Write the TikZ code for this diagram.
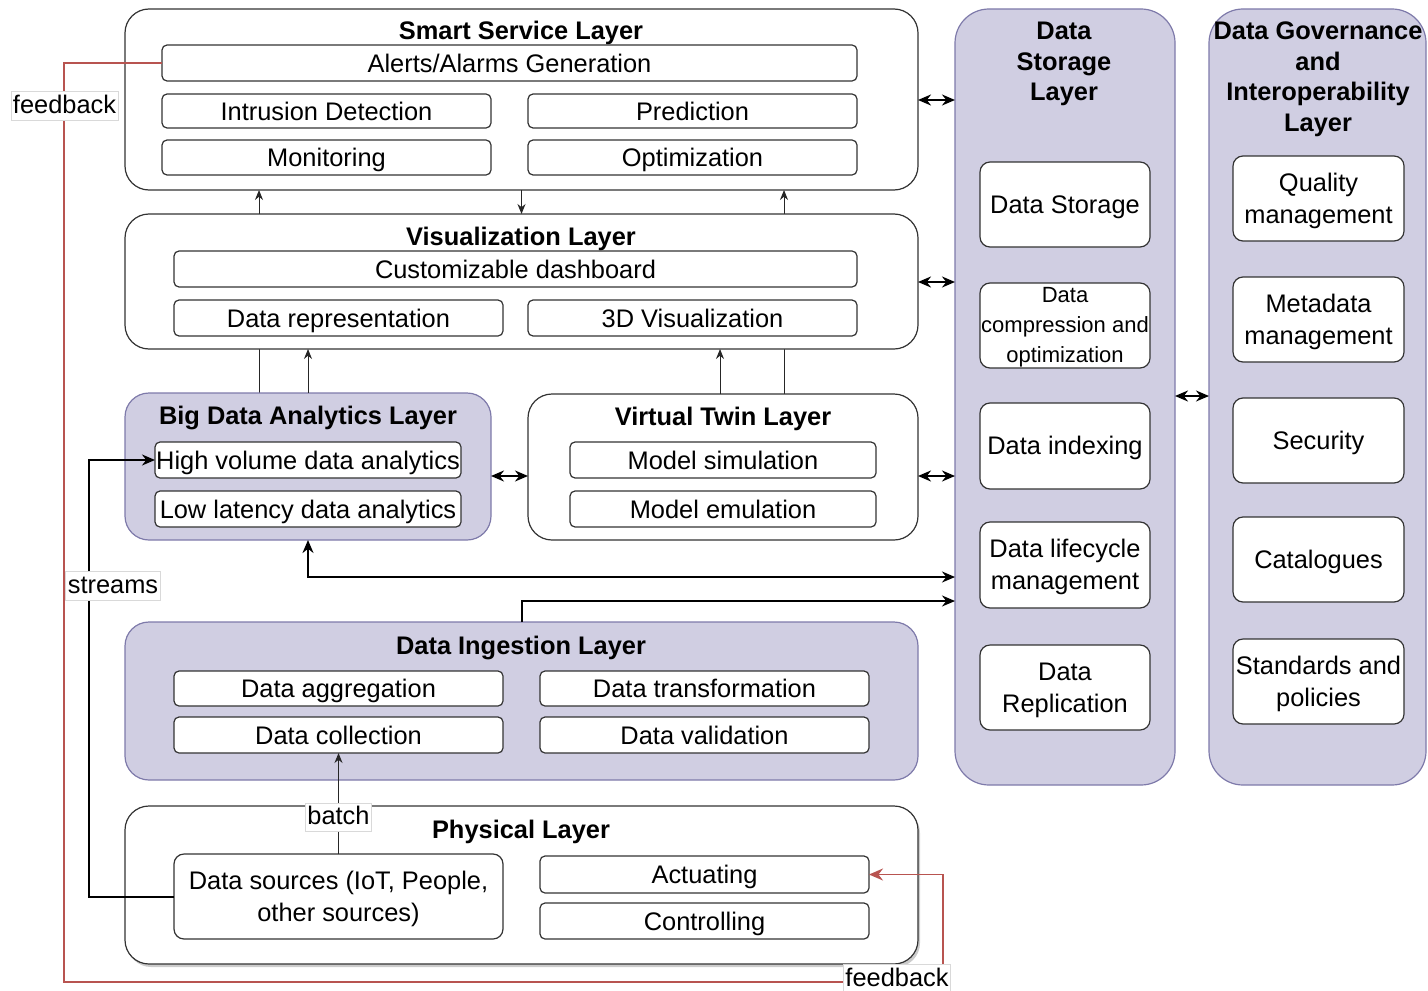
\documentclass[tikz,border=0pt]{standalone}
\usepackage{fontspec}
\setmainfont{Liberation Sans}
\usetikzlibrary{arrows.meta,shadows,backgrounds}
\definecolor{lav}{HTML}{D0CEE2}
\definecolor{lavd}{HTML}{7E7AAA}
\definecolor{fbred}{HTML}{B85450}
\newcommand\nsz{\fontsize{12.7}{15.25}\selectfont}
\newcommand\msz{\fontsize{12.7}{16}\selectfont}
\newcommand\ssz{\fontsize{11}{15.1}\selectfont}
\newcommand\tl{\rule{0pt}{11.6pt}}
\tikzset{
 sz/.style 2 args={minimum width=#1pt, minimum height=#2pt},
 outer/.style={draw=black!80, line width=0.6pt, rounded corners=12pt, fill=white, inner sep=0pt, outer sep=0pt},
 outerp/.style={outer, fill=lav, draw=lavd},
 tall/.style={outer, fill=lav, draw=lavd, rounded corners=17pt},
 ibox/.style={draw=black!80, line width=0.6pt, rounded corners=2.5pt, fill=white, inner sep=0pt, outer sep=0pt, font=\nsz, text height=9.1pt, text depth=0pt},
 sbox/.style={draw=black!80, line width=0.6pt, rounded corners=5pt, fill=white, inner sep=0pt, outer sep=0pt, font=\msz, align=center},
 ttl/.style={font=\nsz\bfseries, inner sep=0pt, text height=9.1pt, text depth=0pt},
 mttl/.style={font=\nsz\bfseries, inner sep=0pt, align=center},
 lbl/.style={fill=white, draw=black!15, line width=0.4pt, inner sep=1pt, font=\nsz, text height=9.6pt, text depth=2.6pt},
 thinarr/.style={line width=0.5pt, draw=black!85, -{Stealth[length=5pt,width=4pt]}},
 thk/.style={line width=1pt},
 fbline/.style={line width=0.8pt, draw=fbred},
}
\begin{document}
\begin{tikzpicture}[x=0.5pt,y=-0.5pt, >={Stealth[length=6.5pt,width=5.5pt]}]
\useasboundingbox (0,0) rectangle (1428,990);

% column / row helper coordinates
\coordinate (x259) at (259,0);
\coordinate (x308) at (308,0);
\coordinate (x720) at (720,0);
\coordinate (x784) at (784,0);
\coordinate (sx) at (89,0);
\coordinate (y100) at (0,100);
\coordinate (y282) at (0,282);
\coordinate (y476) at (0,476);
\coordinate (y396) at (0,396);
\coordinate (y577) at (0,577);
\coordinate (y601) at (0,601);
\coordinate (fbL) at (64,982);
\coordinate (fbR) at (943,982);

% Smart Service Layer
\node[outer, sz={396.5}{90.5}] (ssl) at (521.5,99.5) {};
\node[ttl] (ssltitle) at (521,30.5) {Smart Service Layer};
\node[ibox, sz={347.5}{18}] (alerts) at (509.5,63) {Alerts/Alarms Generation};
\node[ibox, sz={164.5}{17}] (intr) at (326.5,111) {Intrusion Detection};
\node[ibox, sz={164.5}{17}] (pred) at (692.5,111) {Prediction};
\node[ibox, sz={164.5}{17.5}] (moni) at (326.5,157.5) {Monitoring};
\node[ibox, sz={164.5}{17.5}] (opti) at (692.5,157.5) {Optimization};

% Visualization Layer
\node[outer, sz={396.5}{67.5}] (vl) at (521.5,281.5) {};
\node[ttl] (vltitle) at (521,236.5) {Visualization Layer};
\node[ibox, sz={341.5}{18}] (dash) at (515.5,269) {Customizable dashboard};
\node[ibox, sz={164.5}{18}] (drep) at (338.5,318) {Data representation};
\node[ibox, sz={164.5}{18}] (vis3d) at (692.5,318) {3D Visualization};

% Big Data Analytics Layer
\node[outerp, sz={183}{73.5}] (bda) at (308,466.5) {};
\node[ttl] (bdatitle) at (308,415) {Big Data Analytics Layer};
\node[ibox, sz={153}{18}] (hv) at (308,460) {High volume data analytics};
\node[ibox, sz={153}{18}] (ll) at (308,509) {Low latency data analytics};

% Virtual Twin Layer
\node[outer, sz={195}{73}] (vt) at (723,467) {};
\node[ttl] (vttitle) at (723,416.5) {Virtual Twin Layer};
\node[ibox, sz={153}{18}] (msim) at (723,460) {Model simulation};
\node[ibox, sz={153}{18}] (memu) at (723,509) {Model emulation};

% Data Ingestion Layer
\node[outerp, sz={396.5}{79}] (dil) at (521.5,701) {};
\node[ttl] (diltitle) at (521,645) {Data Ingestion Layer};
\node[ibox, sz={164.5}{17.5}] (dagg) at (338.5,688.5) {Data aggregation};
\node[ibox, sz={164.5}{17.5}] (dtrans) at (704.5,688.5) {Data transformation};
\node[ibox, sz={164.5}{18}] (dcoll) at (338.5,735) {Data collection};
\node[ibox, sz={164.5}{18}] (dval) at (704.5,735) {Data validation};

% Physical Layer
\node[outer, sz={396.5}{79}, drop shadow={shadow xshift=1pt, shadow yshift=-1.5pt, fill=black!40, opacity=0.5}] (pl) at (521.5,885) {};
\node[ttl] (pltitle) at (521,829.5) {Physical Layer};
\node[sbox, sz={164.5}{42.5}] (dsrc) at (338.5,896.5) {\tl Data sources (IoT, People,\\other sources)};
\node[ibox, sz={164.5}{18.5}] (act) at (704.5,874.5) {Actuating};
\node[ibox, sz={164.5}{18}] (ctrl) at (704.5,921) {Controlling};

% Data Storage Layer
\node[tall, sz={110}{388}] (dsl) at (1065,397) {};
\node[mttl] (dsltitle) at (1064,64) {Data\\Storage\\Layer};
\node[sbox, sz={85}{42.5}] (dstor) at (1065,204.5) {\tl Data Storage};
\node[sbox, sz={85}{42.5}] (dcomp) at (1065,325.5) {};
\node[font=\ssz, align=center, inner sep=0pt] (dcomptxt) at (1065,327.3) {Data\\compression and\\optimization};
\node[sbox, sz={85}{43}] (dind) at (1065,446) {\tl Data indexing};
\node[sbox, sz={85}{43}] (dlife) at (1065,565) {\tl Data lifecycle\\management};
\node[sbox, sz={85}{42.5}] (drepl) at (1065,687.5) {\tl Data\\Replication};

% Data Governance and Interoperability Layer
\node[tall, sz={108.5}{388}] (dgl) at (1317.5,397) {};
\node[mttl] (dgltitle) at (1318,79.5) {Data Governance\\and\\Interoperability\\Layer};
\node[sbox, sz={85.5}{42.5}] (qual) at (1318.5,198.5) {\tl Quality\\management};
\node[sbox, sz={85.5}{42.5}] (meta) at (1318.5,319.5) {\tl Metadata\\management};
\node[sbox, sz={85.5}{42.5}] (sec) at (1318.5,440.5) {\tl Security};
\node[sbox, sz={85.5}{42.5}] (cat) at (1318.5,559.5) {\tl Catalogues};
\node[sbox, sz={85.5}{42.5}] (std) at (1318.5,681.5) {\tl Standards and\\policies};

% connectors passing behind the Visualization Layer
\begin{scope}[on background layer]
\draw[thinarr] (bda.north -| x259) -- (ssl.south -| x259);
\draw[thinarr] (vt.north -| x784) -- (ssl.south -| x784);
\end{scope}

% vertical connectors
\draw[thinarr] (ssl.south) -- (vl.north);
\draw[thinarr] (bda.north -| x308) -- (vl.south -| x308);
\draw[thinarr] (vt.north -| x720) -- (vl.south -| x720);

% double arrows
\draw[thk,<->] (ssl.east |- y100) -- (dsl.west |- y100);
\draw[thk,<->] (vl.east |- y282) -- (dsl.west |- y282);
\draw[thk,<->] (bda.east |- y476) -- (vt.west |- y476);
\draw[thk,<->] (vt.east |- y476) -- (dsl.west |- y476);
\draw[thk,<->] (dsl.east |- y396) -- (dgl.west |- y396);

% analytics <-> storage, ingestion -> storage
\draw[thk,<->] (bda.south -| x308) |- (dsl.west |- y577);
\draw[thk,->] (dil.north) |- (dsl.west |- y601);

% streams
\draw[thk,->] (dsrc.west) -- (dsrc.west -| sx) -- (hv.west -| sx) -- (hv.west);

% batch
\draw[thinarr] (dsrc.north) -- node[lbl, pos=0.36] (batchlbl) {batch} (dcoll.south);

% feedback
\draw[fbline, -{Stealth[length=7pt,width=6pt]}] (alerts.west) -| (fbL) -- (fbR) |- (act.east);

% labels
\node[lbl] (fb1) at (64.5,106) {feedback};
\node[lbl] (strl) at (113,586) {streams};
\node[lbl] (fb2) at (897,979) {feedback};
\end{tikzpicture}
\end{document}
